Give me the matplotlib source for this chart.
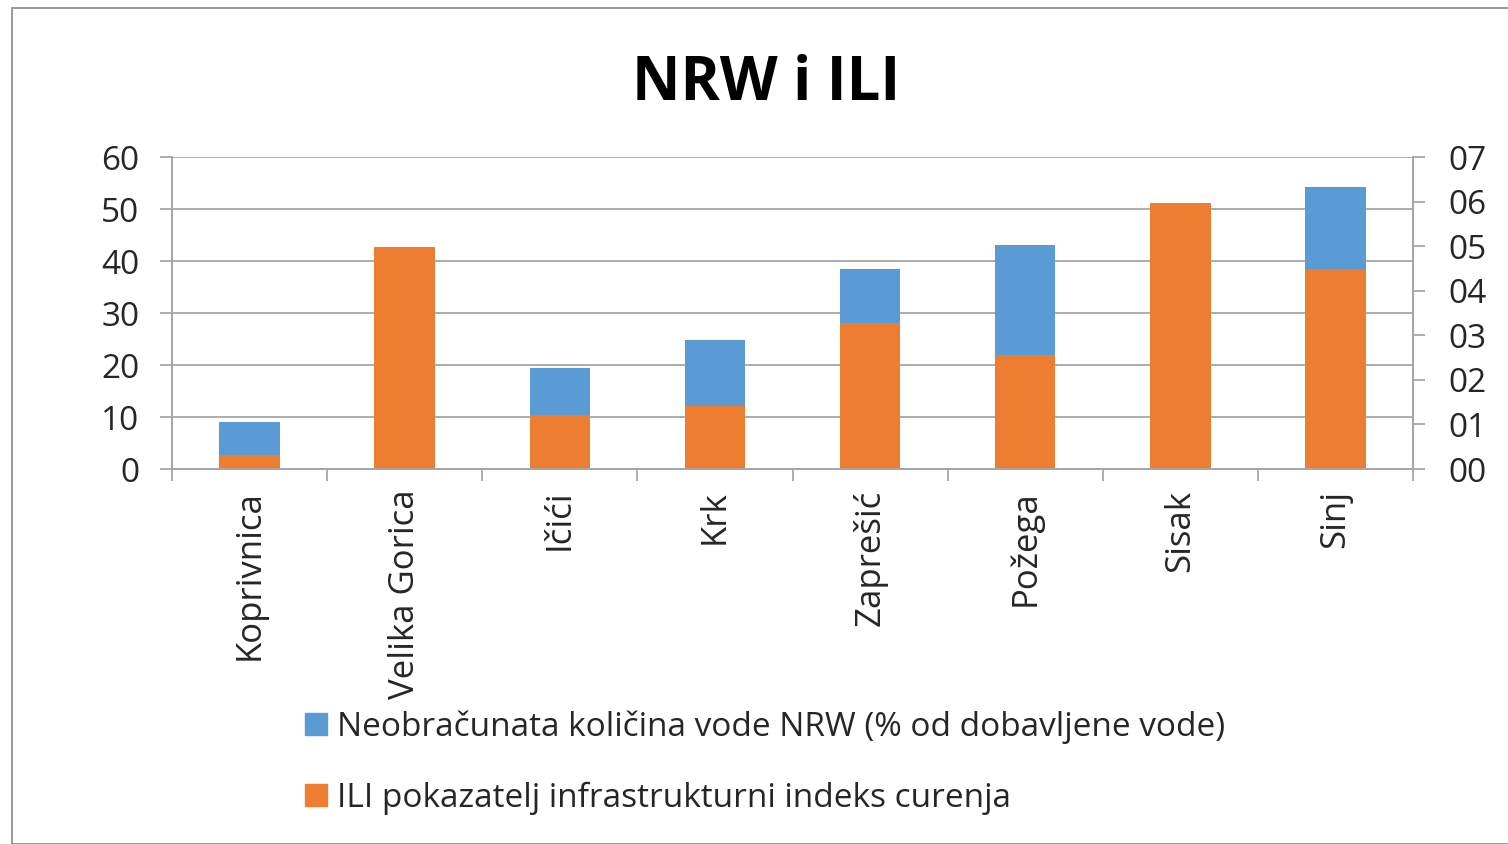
import numpy as np
import matplotlib.pyplot as plt
from matplotlib.patches import Patch, Rectangle
from matplotlib.ticker import FuncFormatter

plt.rcParams["font.family"] = ["Open Sans", "DejaVu Sans"]

# podaci
cities = ["Koprivnica", "Velika Gorica", "Ičići", "Krk", "Zaprešić",
          "Požega", "Sisak", "Sinj"]
nrw = [9.0, np.nan, 19.4, 24.8, 38.5, 43.1, np.nan, 54.2]
ili = [0.31, 4.98, 1.21, 1.41, 3.27, 2.56, 5.96, 4.48]

nrw_label = "Neobračunata količina vode NRW (% od dobavljene vode)"
ili_label = "ILI pokazatelj infrastrukturni indeks curenja"

blue = "#5B9BD5"
orange = "#ED7D31"
grid_c = "#A6A6A6"
text_c = "#262626"

fig = plt.figure(figsize=(15.08, 8.44), dpi=100)
fig.patches.append(Rectangle((12 / 1508, 0), 1.0, 1 - 8 / 844,
                             transform=fig.transFigure, fill=False,
                             edgecolor="#888888", linewidth=1.2))

ax = fig.add_axes([172 / 1508, 1 - 469 / 844, 1241 / 1508, 312 / 844])
ax2 = ax.twinx()

x = np.arange(len(cities))
w = 0.39
ax.bar(x, nrw, width=w, color=blue, zorder=2)
ax2.bar(x, ili, width=w, color=orange, zorder=2)

ax.set_xlim(-0.5, len(cities) - 0.5)
ax.set_ylim(0, 60)
ax2.set_ylim(0, 7)
ax.set_yticks(range(0, 61, 10))
ax2.set_yticks(range(0, 8))
ax2.yaxis.set_major_formatter(FuncFormatter(lambda v, p: f"{int(v):02d}"))

ax.grid(axis="y", color=grid_c, linewidth=1.3, zorder=0)
ax.set_axisbelow(True)

# kategorije - crtice izmedu stupaca
ax.set_xticks(x)
ax.set_xticklabels(cities, rotation=90, fontsize=25, color=text_c)
ax.set_xticks(np.arange(-0.5, len(cities)), minor=True)
ax.tick_params(axis="x", which="major", length=0, pad=15)
ax.tick_params(axis="x", which="minor", length=8.6, width=1.3, color=grid_c)

ax.tick_params(axis="y", length=8.6, width=1.3, color=grid_c,
               labelsize=24, labelcolor=text_c, pad=15)
ax2.tick_params(axis="y", length=8.6, width=1.3, color=grid_c,
                labelsize=24, labelcolor=text_c, pad=17)

for a in (ax, ax2):
    a.spines["top"].set_visible(False)
    for s in ["left", "right", "bottom"]:
        a.spines[s].set_color(grid_c)
        a.spines[s].set_linewidth(1.3)

fig.text(766 / 1508, 1 - 84 / 844, "NRW i ILI", ha="center", va="center",
         fontsize=43, fontweight="bold", color="black")

handles = [Patch(color=blue), Patch(color=orange)]
fig.legend(handles, [nrw_label, ili_label], loc="upper left",
           bbox_to_anchor=(275 / 1508, 1 - 680 / 844), frameon=False,
           fontsize=24, handlelength=0.65, handleheight=0.65,
           handletextpad=0.3, labelspacing=1.15, labelcolor=text_c)

fig.savefig("out.png", dpi=100)
